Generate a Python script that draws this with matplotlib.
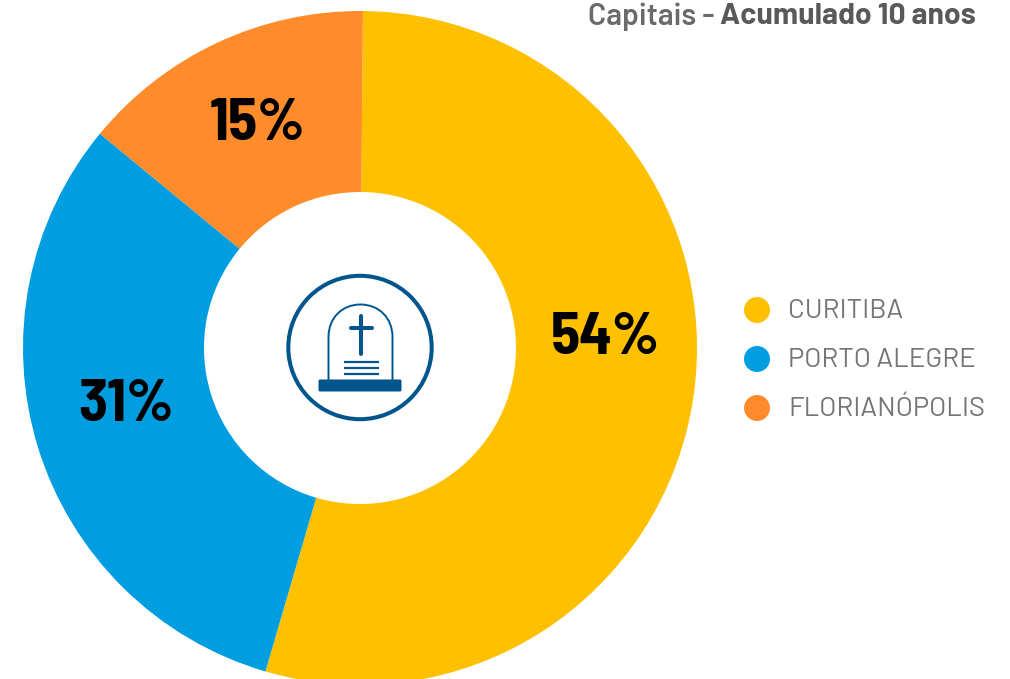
import matplotlib
matplotlib.use('Agg')
import matplotlib.pyplot as plt
from matplotlib.patches import Circle, FancyBboxPatch, PathPatch
from matplotlib.path import Path

labels = ['CURITIBA', 'PORTO ALEGRE', 'FLORIANÓPOLIS']
values = [54.39, 31.44, 14.17]
colors = ['#FFC000', '#009EE0', '#FF8C2A']
pct = ['54%', '31%', '15%']
title_a = 'Capitais - '
title_b = 'Acumulado 10 anos'

bold_font = ['Barlow Semi Condensed', 'Roboto', 'DejaVu Sans']
text_font = ['Barlow', 'Roboto', 'DejaVu Sans']
plt.rcParams['font.family'] = text_font
W, H = 1010, 679
NAVY = '#00568C'
GREY = '#757575'
fig = plt.figure(figsize=(W/100, H/100), dpi=100, facecolor='white')
ax = fig.add_axes([0, 0, 1, 1])
cx, cy, R, r = 360, 348, 337, 156
ax.pie(values, colors=colors, startangle=-89.5, counterclock=True,
       radius=R, center=(cx, cy), frame=True,
       wedgeprops=dict(width=R-r, linewidth=0))
ax.set_xlim(0, W); ax.set_ylim(H, 0); ax.set_aspect('equal'); ax.axis('off')

# percentage labels
for t, (x, y) in zip(pct, [(605, 333), (126, 400), (257, 119)]):
    ax.text(x, y, t, ha='center', va='center_baseline', fontsize=43, fontweight='bold',
            color='black', family=bold_font)

# title
ax.text(720, 14, title_a, ha='right', va='center_baseline', fontsize=21.7, fontweight='semibold', color='#6A6A6A')
ax.text(720, 14, title_b, ha='left', va='center_baseline', fontsize=21.7, fontweight='bold', color='#595959')

# legend
for lab, c, y in zip(labels, colors, [310, 359, 408]):
    ax.add_patch(Circle((757, y), 13, fc=c, ec='none'))
    ax.text(788, y-1.5, lab, ha='left', va='center_baseline', fontsize=19.8, fontweight='normal', color=GREY)

# icon
ax.add_patch(Circle((360, 347.5), 71.7, fc='none', ec=NAVY, lw=2.9))
v = [(328.5, 381), (328.5, 337), (328.5, 318), (342, 304.5), (360.5, 304.5), (379, 304.5), (392.5, 318), (392.5, 337), (392.5, 381)]
codes = [Path.MOVETO, Path.LINETO, Path.CURVE4, Path.CURVE4, Path.CURVE4, Path.CURVE4, Path.CURVE4, Path.CURVE4, Path.LINETO]
ax.add_patch(PathPatch(Path(v, codes), fc='none', ec=NAVY, lw=1.4))
ax.add_patch(FancyBboxPatch((318.5, 379.5), 83, 12, boxstyle='round,pad=0,rounding_size=1.5', fc=NAVY, ec='none'))
ax.plot([361, 361], [316, 354], color=NAVY, lw=2.9, solid_capstyle='round')
ax.plot([351, 372], [328, 328], color=NAVY, lw=2.9, solid_capstyle='round')
for y in [362.3, 368, 373.7]:
    ax.plot([344, 378.5], [y, y], color=NAVY, lw=1.6, solid_capstyle='butt')

fig.savefig('out.png', dpi=100)
